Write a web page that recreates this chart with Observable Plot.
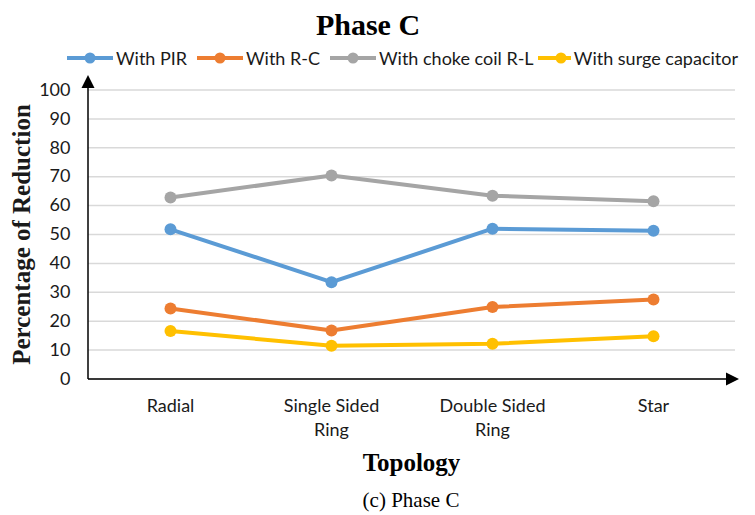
<!DOCTYPE html>
<html>
<head>
<meta charset="utf-8">
<script src="https://cdn.jsdelivr.net/npm/d3@7"></script>
<script src="https://cdn.jsdelivr.net/npm/@observablehq/plot@0.6"></script>
<style>
  html, body { margin: 0; padding: 0; background: #fff; }
  #wrap { width: 755px; height: 515px; overflow: hidden; position: relative; }
  .title {
    font-family: "Liberation Serif", "Times New Roman", serif;
    font-weight: bold; font-size: 30px; line-height: 40px;
    margin-top: 5px; height: 40px; text-align: center; padding-right: 19px;
  }
  .legend {
    display: flex; align-items: center; height: 26px; padding-left: 67px;
    font-family: Lato, sans-serif; font-size: 18px; color: #1a1a1a;
  }
  .legend .item { display: inline-flex; align-items: center; white-space: nowrap; flex: none; }
  .legend svg { margin-right: 3px; }
  .caption {
    font-family: "Liberation Serif", "Times New Roman", serif;
    font-size: 21px; line-height: 38px; text-align: center; padding-left: 67px;
  }
</style>
</head>
<body>
<div id="wrap">
  <div class="title">Phase C</div>
  <div class="legend" id="legend"></div>
  <div id="chart"></div>
  <div class="caption">(c) Phase C</div>
</div>
<script>
// Topologies on the x axis and their two-line tick labels
const topologies = ["Radial", "Single Sided Ring", "Double Sided Ring", "Star"];
const tickLabels = ["Radial", "Single Sided\nRing", "Double Sided\nRing", "Star"];

// Reduction methods (series)
const series = ["With PIR", "With R-C", "With choke coil R-L", "With surge capacitor"];

// Percentage of reduction per topology, one array per method
const withPIR = [51.8, 33.5, 52.0, 51.3];
const withRC = [24.4, 16.8, 24.9, 27.5];
const withChokeCoil = [62.8, 70.4, 63.4, 61.5];
const withSurgeCapacitor = [16.6, 11.5, 12.2, 14.8];

// Y axis ticks
const yTicks = [0, 10, 20, 30, 40, 50, 60, 70, 80, 90, 100];

const palette = ["#5B9BD5", "#ED7D31", "#A5A5A5", "#FFC000"];
const legendItemWidths = [130, 133, 208, 200];

const valuesBySeries = [withPIR, withRC, withChokeCoil, withSurgeCapacitor];
const rows = series.flatMap((s, i) =>
  topologies.map((t, j) => ({series: s, topology: t, value: valuesBySeries[i][j]}))
);

// Legend: line-and-marker swatches
const legend = document.getElementById("legend");
series.forEach((s, i) => {
  const item = document.createElement("span");
  item.className = "item";
  item.style.width = legendItemWidths[i] + "px";
  item.innerHTML =
    `<svg width="46" height="14"><line x1="0" y1="7" x2="46" y2="7" stroke="${palette[i]}" stroke-width="4"/>` +
    `<circle cx="23" cy="7" r="5.5" fill="${palette[i]}"/></svg><span>${s}</span>`;
  legend.appendChild(item);
});

const chart = Plot.plot({
  width: 755,
  height: 410,
  marginLeft: 88,
  marginRight: 20,
  marginTop: 18.5,
  marginBottom: 102.5,
  style: {fontFamily: "Lato, sans-serif", fontSize: "18px", color: "#1a1a1a", background: "#fff"},
  x: {type: "point", domain: topologies, padding: 0.5},
  y: {domain: [0, 100]},
  color: {domain: series, range: palette},
  marks: [
    Plot.gridY(yTicks, {stroke: "#d9d9d9", strokeOpacity: 1, strokeWidth: 1.5}),
    Plot.axisY(yTicks, {
      tickSize: 0, tickPadding: 18,
      label: "Percentage of Reduction", labelAnchor: "center", labelArrow: "none",
      labelOffset: 76
    }),
    Plot.axisX({
      tickSize: 0, tickPadding: 16, lineHeight: 1.33,
      tickFormat: (d) => tickLabels[topologies.indexOf(d)],
      label: null
    }),
    Plot.line(rows, {x: "topology", y: "value", z: "series", stroke: "series", strokeWidth: 4}),
    Plot.dot(rows, {x: "topology", y: "value", fill: "series", r: 6})
  ]
});
document.getElementById("chart").appendChild(chart);

// Axis lines with arrowheads, placed from the plot's own scales
const svg = d3.select(chart);
const [xLeft, xRight] = chart.scale("x").range;
const yScale = chart.scale("y");
const yBase = yScale.apply(0) + 0.5;
const yTop = yScale.apply(100);
const axisG = svg.append("g").attr("fill", "#000").attr("stroke", "#000");
axisG.append("line")
  .attr("x1", xLeft).attr("x2", xLeft).attr("y1", yBase).attr("y2", yTop - 2)
  .attr("stroke-width", 1.5);
axisG.append("path")
  .attr("stroke", "none")
  .attr("d", `M${xLeft},${yTop - 14.5}L${xLeft + 6.5},${yTop - 1.5}L${xLeft - 6.5},${yTop - 1.5}Z`);
axisG.append("line")
  .attr("x1", xLeft).attr("x2", xRight - 9).attr("y1", yBase).attr("y2", yBase)
  .attr("stroke-width", 1.5);
axisG.append("path")
  .attr("stroke", "none")
  .attr("d", `M${xRight + 4},${yBase}L${xRight - 9},${yBase - 6.5}L${xRight - 9},${yBase + 6.5}Z`);

// Axis label styling (bold serif) and x axis title
svg.selectAll("[aria-label='y-axis label'] text, [aria-label='y-axis label']")
  .style("font-family", "'Liberation Serif', 'Times New Roman', serif")
  .style("font-weight", "bold").style("font-size", "25px");
svg.append("text")
  .attr("x", (xLeft + xRight) / 2).attr("y", yBase + 92)
  .attr("text-anchor", "middle")
  .style("font-family", "'Liberation Serif', 'Times New Roman', serif")
  .style("font-weight", "bold").style("font-size", "25px").attr("fill", "#000")
  .text("Topology");
</script>
</body>
</html>
